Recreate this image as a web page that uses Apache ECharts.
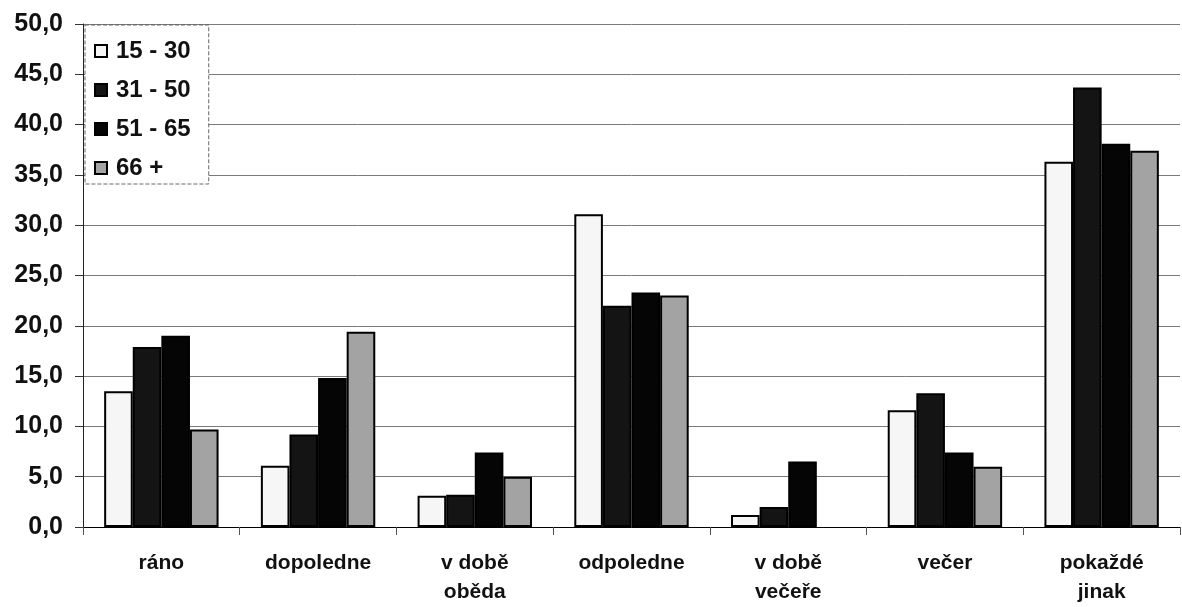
<!DOCTYPE html>
<html>
<head>
<meta charset="utf-8">
<script src="https://cdn.jsdelivr.net/npm/echarts@6/dist/echarts.min.js"></script>
<style>
html,body{margin:0;padding:0;background:#fff;}
#chart{width:1182px;height:607px;}
</style>
</head>
<body>
<div id="chart"></div>
<script>
const categories = ["ráno", "dopoledne", "v době\noběda", "odpoledne", "v době\nvečeře", "večer", "pokaždé\njinak"];
const seriesNames = ["15 - 30", "31 - 50", "51 - 65", "66 +"];
const s15_30 = [13.5, 6.1, 3.1, 31.1, 1.2, 11.6, 36.3];
const s31_50 = [17.9, 9.2, 3.2, 22.0, 2.0, 13.3, 43.7];
const s51_65 = [19.0, 14.8, 7.4, 23.3, 6.5, 7.4, 38.1];
const s66 = [9.7, 19.4, 5.0, 23.0, 0.0, 6.0, 37.4];
const yTicks = { min: 0, max: 50, interval: 5 };

const fills = ["#f6f6f6", "#141414", "#050505", "#a3a3a3"];
const dataSets = [s15_30, s31_50, s51_65, s66];

const chart = echarts.init(document.getElementById('chart'));
const font = '"Liberation Sans", Arial, sans-serif';
chart.setOption({
  animation: false,
  backgroundColor: '#fff',
  grid: { left: 83, right: 2, top: 24, bottom: 76, containLabel: false },
  legend: {
    orient: 'vertical',
    left: 85, top: 25,
    data: seriesNames,
    icon: 'rect',
    itemWidth: 12, itemHeight: 12, itemGap: 15,
    padding: [14, 18, 4, 9],
    borderColor: '#666', borderWidth: 1, borderType: 'dashed',
    backgroundColor: '#fff',
    textStyle: { fontFamily: font, fontWeight: 'bold', fontSize: 24, color: '#111', padding: [0, 0, 0, 4] }
  },
  xAxis: {
    type: 'category',
    data: categories,
    axisLine: { show: true, lineStyle: { color: '#000', width: 1 } },
    axisTick: { show: true, alignWithLabel: false, length: 8, lineStyle: { color: '#555' } },
    axisLabel: { fontFamily: font, fontWeight: 'bold', fontSize: 21, color: '#111', margin: 22, lineHeight: 29, interval: 0 },
    splitLine: { show: false }
  },
  yAxis: {
    type: 'value',
    min: yTicks.min, max: yTicks.max, interval: yTicks.interval,
    axisLine: { show: true, lineStyle: { color: '#222', width: 1 } },
    axisTick: { show: true, inside: false, length: 8, lineStyle: { color: '#333' } },
    axisLabel: {
      fontFamily: font, fontWeight: 'bold', fontSize: 25, color: '#111', margin: 20,
      formatter: v => v.toFixed(1).replace('.', ',')
    },
    splitLine: { show: true, lineStyle: { color: '#7a7a7a', width: 1 } }
  },
  series: seriesNames.map((name, i) => ({
    name: name,
    type: 'bar',
    data: dataSets[i].map(v => v === 0 ? { value: v, itemStyle: { borderWidth: 0, opacity: 0 } } : v),
    barGap: '0%',
    barCategoryGap: '27%',
    itemStyle: { color: fills[i], borderColor: '#000', borderWidth: 2 }
  }))
});
</script>
</body>
</html>
